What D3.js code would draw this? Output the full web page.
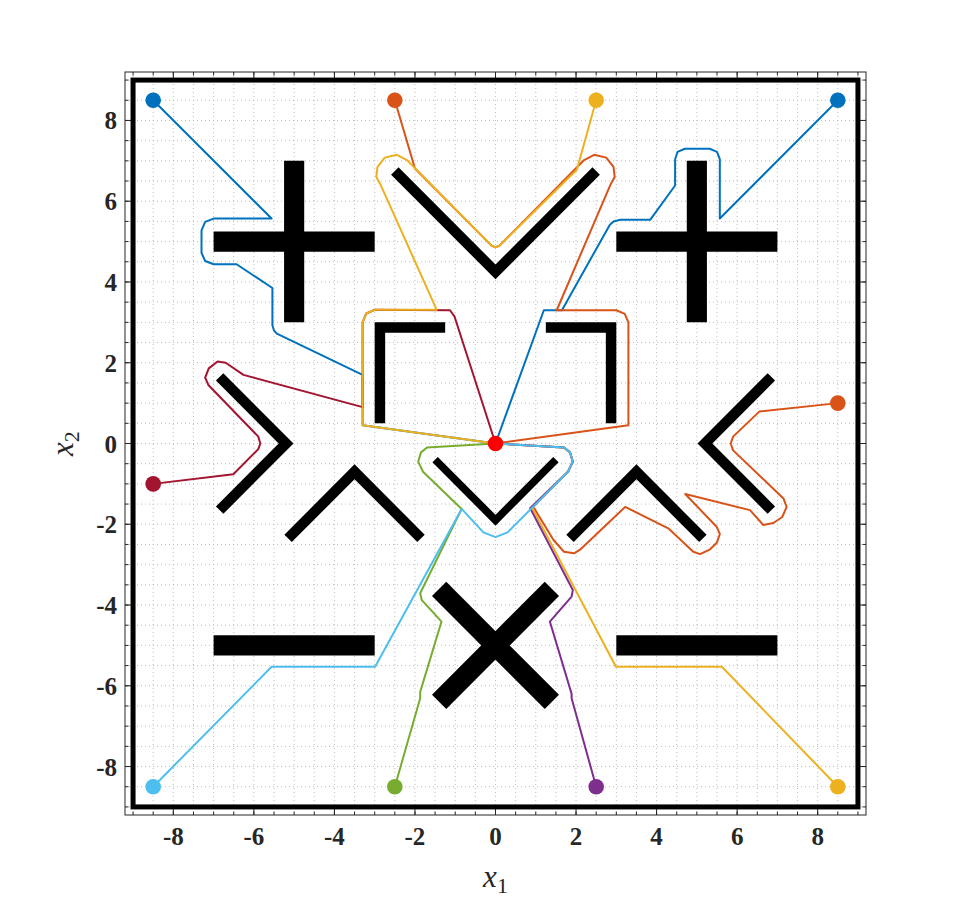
<!DOCTYPE html>
<html>
<head>
<meta charset="utf-8">
<script src="https://cdn.jsdelivr.net/npm/d3@7"></script>
<style>
  body { margin: 0; background: #fff; }
  svg { display: block; }
</style>
</head>
<body>
<svg id="chart" width="958" height="919"></svg>
<script>
/* Axis settings */
const xTicks = [-8, -6, -4, -2, 0, 2, 4, 6, 8];
const yTicks = [-8, -6, -4, -2, 0, 2, 4, 6, 8];
const gridSteps = d3.range(-9, 9.01, 0.5);
const boundary = [-9, 9];

/* Obstacles: thick bars (width 0.5) */
const thickBars = [
  [[-5, 3], [-5, 7]], [[-7, 5], [-3, 5]],
  [[5, 3], [5, 7]], [[3, 5], [7, 5]],
  [[-7, -5], [-3, -5]], [[3, -5], [7, -5]],
  [[-1.4, -3.6], [1.4, -6.4]], [[-1.4, -6.4], [1.4, -3.6]]
];

/* Obstacles: thin polylines */
const topV = [[-2.5, 6.75], [0, 4.25], [2.5, 6.75]];
const bracketLeft = [[-1.25, 2.87], [-2.87, 2.87], [-2.87, 0.5]];
const bracketRight = [[1.25, 2.87], [2.87, 2.87], [2.87, 0.5]];
const chevronLeft = [[-6.85, 1.65], [-5.2, 0], [-6.85, -1.65]];
const chevronRight = [[6.85, 1.65], [5.2, 0], [6.85, -1.65]];
const caretLeft = [[-5.15, -2.35], [-3.5, -0.7], [-1.85, -2.35]];
const caretRight = [[1.85, -2.35], [3.5, -0.7], [5.15, -2.35]];
const smallV = [[-1.5, -0.4], [0, -1.9], [1.5, -0.4]];

/* Goal */
const goal = [0, 0];

/* Trajectories */
const pathBlueTL = [[-8.5, 8.5], [-5.56, 5.57], [-7.0, 5.57], [-7.21, 5.49], [-7.3, 5.28], [-7.3, 4.72],
  [-7.21, 4.52], [-7.0, 4.44], [-6.43, 4.44], [-5.54, 3.85], [-5.54, 2.93], [-5.5, 2.8], [-5.43, 2.72],
  [-3.3, 1.7], [-3.3, 0.45], [0, 0]];
const pathBlueTR = [[8.5, 8.5], [5.57, 5.57], [5.57, 7.04], [5.5, 7.22], [5.32, 7.3], [4.7, 7.3],
  [4.52, 7.22], [4.46, 7.04], [4.46, 6.39], [3.84, 5.54], [3.1, 5.54], [2.93, 5.5], [2.84, 5.42],
  [1.65, 3.3], [1.2, 3.3], [0, 0]];
const pathOrangeTop = [[-2.5, 8.5], [-2.0, 6.81], [-0.1, 4.9], [0, 4.86], [0.1, 4.9], [2.2, 7.02],
  [2.45, 7.15], [2.75, 7.08], [2.93, 6.85], [2.96, 6.6], [2.85, 6.4], [1.52, 3.3], [3.0, 3.3],
  [3.21, 3.21], [3.3, 3.0], [3.3, 0.45], [0, 0]];
const pathYellowTop = [[2.5, 8.5], [2.02, 6.78], [0.1, 4.9], [0, 4.86], [-0.1, 4.9], [-2.2, 7.02],
  [-2.45, 7.15], [-2.75, 7.08], [-2.93, 6.85], [-2.96, 6.6], [-2.85, 6.4], [-1.46, 3.31], [-3.0, 3.31],
  [-3.21, 3.22], [-3.3, 3.0], [-3.3, 0.45], [0, 0]];
const pathDarkRed = [[-8.5, -1], [-6.51, -0.76], [-5.89, -0.14], [-5.84, 0.0], [-5.89, 0.17],
  [-7.13, 1.45], [-7.21, 1.63], [-7.12, 1.86], [-6.9, 2.03], [-6.7, 2.0], [-6.26, 1.7], [-3.3, 0.9],
  [-3.3, 3.0], [-3.21, 3.22], [-3.0, 3.31], [-1.13, 3.3], [-1.02, 3.15], [0, 0]];
const pathOrangeRight = [[8.5, 1], [6.55, 0.79], [5.9, 0.17], [5.84, 0.0], [5.9, -0.17], [7.15, -1.36],
  [7.23, -1.57], [7.12, -1.82], [6.9, -1.97], [6.65, -2.02], [6.32, -1.65], [4.71, -1.25], [5.49, -2.06],
  [5.57, -2.24], [5.5, -2.45], [5.33, -2.62], [5.08, -2.74], [4.91, -2.68], [4.29, -2.1], [3.22, -1.57],
  [2.1, -2.63], [1.95, -2.72], [1.7, -2.68], [1.44, -2.39], [0.94, -1.57], [1.8, -0.7], [1.92, -0.45],
  [1.85, -0.22], [1.7, -0.1], [0, 0]];
const pathYellowBottom = [[8.5, -8.5], [5.62, -5.53], [2.99, -5.53], [0.9, -1.57], [1.8, -0.7],
  [1.92, -0.45], [1.85, -0.22], [1.7, -0.1], [0, 0]];
const pathPurple = [[2.5, -8.5], [1.89, -6.31], [1.89, -6.2], [1.35, -4.41], [1.89, -3.79], [1.92, -3.63],
  [0.86, -1.6], [1.8, -0.7], [1.92, -0.45], [1.85, -0.22], [1.7, -0.1], [0, 0]];
const pathGreen = [[-2.5, -8.5], [-1.87, -6.31], [-1.87, -6.15], [-1.34, -4.41], [-1.83, -3.88],
  [-1.87, -3.71], [-0.84, -1.62], [-1.8, -0.7], [-1.92, -0.45], [-1.85, -0.22], [-1.7, -0.1], [0, 0]];
const pathLightBlue = [[-8.5, -8.5], [-5.56, -5.53], [-2.99, -5.53], [-0.84, -1.62], [-0.3, -2.2],
  [0, -2.32], [0.3, -2.2], [1.8, -0.7], [1.92, -0.45], [1.85, -0.22], [1.7, -0.1], [0, 0]];

/* Drawing order and colours (MATLAB default palette) */
const trajectories = [
  {pts: pathBlueTL, color: '#0072BD'},
  {pts: pathBlueTR, color: '#0072BD'},
  {pts: pathOrangeTop, color: '#D95319'},
  {pts: pathDarkRed, color: '#A2142F'},
  {pts: pathYellowTop, color: '#EDB120'},
  {pts: pathOrangeRight, color: '#D95319'},
  {pts: pathYellowBottom, color: '#EDB120'},
  {pts: pathPurple, color: '#7E2F8E'},
  {pts: pathGreen, color: '#77AC30'},
  {pts: pathLightBlue, color: '#4DBEEE'}
];

const serif = "'Liberation Serif', 'Times New Roman', Times, serif";
const svg = d3.select('#chart');
const box = {left: 125, right: 866, top: 72, bottom: 815};

const x = d3.scaleLinear().domain([-9.2, 9.2]).range([box.left, box.right]);
const y = d3.scaleLinear().domain([-9.2, 9.2]).range([box.bottom, box.top]);
const unit = x(1) - x(0);

const line = d3.line().x(d => x(d[0])).y(d => y(d[1]));

// grid (dotted, every 0.5)
const grid = svg.append('g').attr('stroke', '#bdbdbd').attr('stroke-width', 1)
  .attr('stroke-dasharray', '1,3');
grid.selectAll('.gx').data(gridSteps).enter().append('line')
  .attr('x1', d => x(d)).attr('x2', d => x(d)).attr('y1', box.top).attr('y2', box.bottom);
grid.selectAll('.gy').data(gridSteps).enter().append('line')
  .attr('y1', d => y(d)).attr('y2', d => y(d)).attr('x1', box.left).attr('x2', box.right);

// axes box + ticks
const axisColor = '#262626';
svg.append('rect').attr('x', box.left).attr('y', box.top)
  .attr('width', box.right - box.left).attr('height', box.bottom - box.top)
  .attr('fill', 'none').attr('stroke', axisColor).attr('stroke-width', 1);

const ticks = svg.append('g').attr('stroke', axisColor).attr('stroke-width', 1);
xTicks.forEach(t => {
  ticks.append('line').attr('x1', x(t)).attr('x2', x(t)).attr('y1', box.bottom).attr('y2', box.bottom - 7);
  ticks.append('line').attr('x1', x(t)).attr('x2', x(t)).attr('y1', box.top).attr('y2', box.top + 7);
});
yTicks.forEach(t => {
  ticks.append('line').attr('y1', y(t)).attr('y2', y(t)).attr('x1', box.left).attr('x2', box.left + 7);
  ticks.append('line').attr('y1', y(t)).attr('y2', y(t)).attr('x1', box.right).attr('x2', box.right - 7);
});
gridSteps.forEach(t => {
  ticks.append('line').attr('x1', x(t)).attr('x2', x(t)).attr('y1', box.bottom).attr('y2', box.bottom - 3.5);
  ticks.append('line').attr('x1', x(t)).attr('x2', x(t)).attr('y1', box.top).attr('y2', box.top + 3.5);
  ticks.append('line').attr('y1', y(t)).attr('y2', y(t)).attr('x1', box.left).attr('x2', box.left + 3.5);
  ticks.append('line').attr('y1', y(t)).attr('y2', y(t)).attr('x1', box.right).attr('x2', box.right - 3.5);
});

const labels = svg.append('g')
  .style('font-family', serif).style('font-weight', 'bold').style('font-size', '25px')
  .attr('fill', axisColor);
labels.selectAll('.xl').data(xTicks).enter().append('text')
  .attr('x', d => x(d)).attr('y', box.bottom + 30)
  .attr('text-anchor', 'middle').text(d => d);
labels.selectAll('.yl').data(yTicks).enter().append('text')
  .attr('x', box.left - 8).attr('y', d => y(d) + 9)
  .attr('text-anchor', 'end').text(d => d);

// axis labels
const xl = svg.append('text').style('font-family', serif).style('font-size', '31px')
  .attr('fill', axisColor)
  .attr('x', x(0)).attr('y', box.bottom + 72).attr('text-anchor', 'middle');
xl.append('tspan').style('font-style', 'italic').text('x');
xl.append('tspan').style('font-size', '22px').attr('dy', 6).text('1');

const yl = svg.append('text').style('font-family', serif).style('font-size', '31px')
  .attr('fill', axisColor)
  .attr('transform', `translate(${box.left - 52},${y(0)}) rotate(-90)`).attr('text-anchor', 'middle');
yl.append('tspan').style('font-style', 'italic').text('x');
yl.append('tspan').style('font-size', '22px').attr('dy', 6).text('2');

// boundary
svg.append('rect')
  .attr('x', x(boundary[0])).attr('y', y(boundary[1]))
  .attr('width', x(boundary[1]) - x(boundary[0])).attr('height', y(boundary[0]) - y(boundary[1]))
  .attr('fill', 'none').attr('stroke', '#000').attr('stroke-width', 5);

// obstacles
const obs = svg.append('g').attr('fill', 'none').attr('stroke', '#000');
obs.selectAll('.bar').data(thickBars).enter().append('path')
  .attr('d', line).attr('stroke-width', 0.5 * unit).attr('stroke-linecap', 'butt');
obs.selectAll('.thin').data([topV, bracketLeft, bracketRight, chevronLeft, chevronRight, caretLeft, caretRight])
  .enter().append('path')
  .attr('d', line).attr('stroke-width', 0.26 * unit).attr('stroke-linejoin', 'miter')
  .attr('stroke-miterlimit', 10);
obs.append('path').datum(smallV).attr('d', line).attr('stroke-width', 0.19 * unit)
  .attr('stroke-linejoin', 'miter').attr('stroke-miterlimit', 10);

// trajectories
svg.append('g').selectAll('path').data(trajectories).enter().append('path')
  .attr('d', d => line(d.pts)).attr('fill', 'none').attr('stroke', d => d.color)
  .attr('stroke-width', 2).attr('stroke-linejoin', 'round');

// start markers
svg.append('g').selectAll('circle').data(trajectories).enter().append('circle')
  .attr('cx', d => x(d.pts[0][0])).attr('cy', d => y(d.pts[0][1])).attr('r', 7.8)
  .attr('fill', d => d.color);

// goal
svg.append('circle').attr('cx', x(goal[0])).attr('cy', y(goal[1])).attr('r', 7.8).attr('fill', '#FF0000');
</script>
</body>
</html>
